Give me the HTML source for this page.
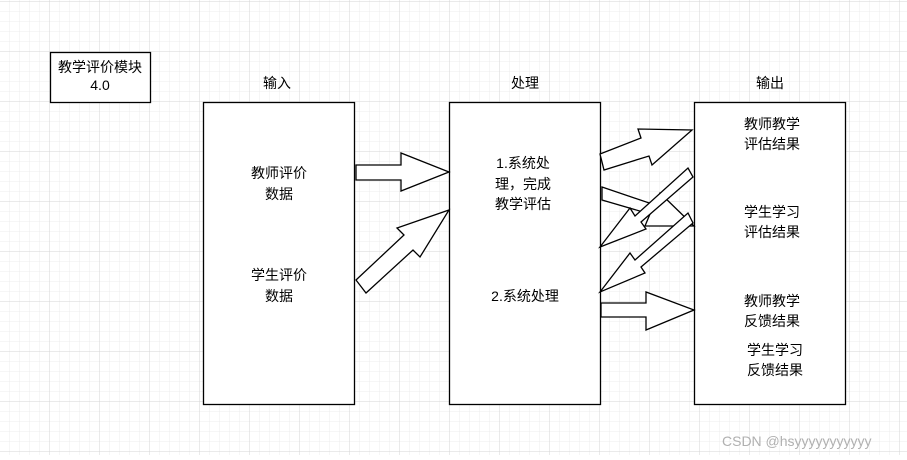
<!DOCTYPE html>
<html><head><meta charset="utf-8"><style>
body{margin:0;width:907px;height:455px;overflow:hidden;background:#fff;}
</style></head><body>
<svg width="907" height="455" xmlns="http://www.w3.org/2000/svg" font-family="Liberation Sans, Noto Sans CJK SC, sans-serif" font-size="14">
<defs>
<pattern id="mi" width="10" height="10" patternUnits="userSpaceOnUse" x="0" y="2">
<path d="M10 0V10M0 10H10" stroke="#ececec" stroke-width="1" fill="none"/></pattern>
<pattern id="ma" width="50" height="50" patternUnits="userSpaceOnUse" x="0" y="2">
<path d="M50 0V50M0 50H50" stroke="#d6d6d6" stroke-width="1" fill="none"/></pattern>
</defs>
<rect width="907" height="455" fill="url(#mi)"/>
<rect width="907" height="455" fill="url(#ma)"/>
<g stroke="#000" stroke-width="1.3" fill="#fff">
<rect x="50.5" y="52.5" width="100" height="50"/>
<rect x="203.5" y="102.5" width="151" height="302"/>
<rect x="449.5" y="102.5" width="151" height="302"/>
<rect x="694.5" y="102.5" width="151" height="302"/>
<polygon points="356,165 401,165 401,153 449,172 401,191 401,180 356,180"/>
<polygon points="356,280 404,235 397,228 449,210 420,257 413,250 366,293"/>
<polygon points="600,154 641,138 638,129 692,130 652,165 649,156 604,170"/>
<polygon points="602,187 655,205 660,193 694,226 645,226 650,214 602,200"/>
<polygon points="600,247 630,208 635,216 688,168 693,177 641,222 646,229"/>
<polygon points="600,292 630,253 635,260 688,213 693,223 641,267 645,273"/>
<polygon points="601,303 646,303 646,292 694,310 646,330 646,317 601,317"/>
</g>
<g text-anchor="middle" fill="#000">
<text x="100" y="72">教学评价模块</text>
<text x="100" y="90">4.0</text>
<text x="277" y="88">输入</text>
<text x="525" y="88">处理</text>
<text x="770" y="88">输出</text>
<text x="279" y="178">教师评价</text>
<text x="279" y="199">数据</text>
<text x="279" y="280">学生评价</text>
<text x="279" y="301">数据</text>
<text x="523" y="168">1.系统处</text>
<text x="523" y="189">理，完成</text>
<text x="523" y="209">教学评估</text>
<text x="525" y="301">2.系统处理</text>
<text x="772" y="129">教师教学</text>
<text x="772" y="149">评估结果</text>
<text x="772" y="217">学生学习</text>
<text x="772" y="237">评估结果</text>
<text x="772" y="306">教师教学</text>
<text x="772" y="326">反馈结果</text>
<text x="775" y="355">学生学习</text>
<text x="775" y="375">反馈结果</text>
</g>
<text x="722" y="446" fill="#b0b0b0" font-size="14">CSDN @hsyyyyyyyyyyy</text>
</svg>
</body></html>
